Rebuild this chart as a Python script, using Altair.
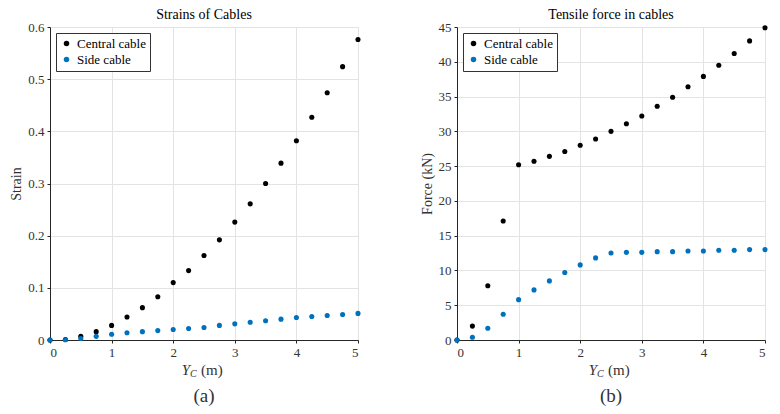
import altair as alt
import pandas as pd

yc = [0, 0.25, 0.5, 0.75, 1, 1.25, 1.5, 1.75, 2, 2.25, 2.5, 2.75, 3, 3.25, 3.5, 3.75, 4, 4.25, 4.5, 4.75, 5]
strain_central = [0, 0.001, 0.007, 0.016, 0.028, 0.044, 0.062, 0.083, 0.110, 0.133, 0.162, 0.192, 0.226,
                  0.261, 0.300, 0.339, 0.382, 0.427, 0.474, 0.524, 0.576]
strain_side = [0, 0.0005, 0.003, 0.007, 0.011, 0.014, 0.016, 0.018, 0.020, 0.022, 0.024, 0.028, 0.031,
               0.034, 0.037, 0.040, 0.043, 0.045, 0.047, 0.049, 0.051]
force_central = [0, 2.0, 7.8, 17.1, 25.2, 25.7, 26.4, 27.1, 28.0, 28.9, 30.0, 31.1, 32.2, 33.6, 34.9,
                 36.4, 37.9, 39.5, 41.2, 43.0, 44.9]
force_side = [0, 0.4, 1.7, 3.7, 5.8, 7.2, 8.5, 9.7, 10.8, 11.8, 12.5, 12.6, 12.6, 12.7, 12.7, 12.8,
              12.8, 12.9, 12.9, 13.0, 13.0]
strain_ticks = [0, 0.1, 0.2, 0.3, 0.4, 0.5, 0.6]
force_ticks = [0, 5, 10, 15, 20, 25, 30, 35, 40, 45]
x_ticks = [0, 1, 2, 3, 4, 5]
series = ["Central cable", "Side cable"]
colors = ["#000000", "#0072BD"]

FONT = "'Liberation Serif', 'DejaVu Serif', serif"
W, H = 308, 313


def frame(c, s):
    rows = [{"x": x, "v": v, "s": series[0]} for x, v in zip(yc, c)]
    rows += [{"x": x, "v": v, "s": series[1]} for x, v in zip(yc, s)]
    return pd.DataFrame(rows)


def panel(df, title, ytitle, ticks, fmt, cap):
    pts = alt.Chart(df).mark_circle(size=26, opacity=1).encode(
        x=alt.X("x:Q", scale=alt.Scale(domain=[0, 5], nice=False),
                axis=alt.Axis(title=None, values=x_ticks, format="d")),
        y=alt.Y("v:Q", scale=alt.Scale(domain=[0, ticks[-1]], nice=False),
                axis=alt.Axis(title=ytitle, values=ticks,
                              labelExpr=f"datum.value == 0 ? '0' : format(datum.value, '{fmt}')")),
        color=alt.Color("s:N", scale=alt.Scale(domain=series, range=colors),
                        legend=alt.Legend(title=None, orient="top-left", offset=6,
                                          strokeColor="#333333", fillColor="white",
                                          padding=4, symbolType="circle", symbolSize=30,
                                          labelFont=FONT, labelFontSize=13, labelColor="#000",
                                          rowPadding=2, labelLimit=200)),
    )
    ylab = alt.Chart(pd.DataFrame({"t": ["Y"]})).mark_text(
        font=FONT, fontSize=15, fontStyle="italic", align="right", color="#333"
    ).encode(text="t:N", x=alt.value(W / 2 - 14), y=alt.value(H + 30))
    csub = alt.Chart(pd.DataFrame({"t": ["C"]})).mark_text(
        font=FONT, fontSize=10, fontStyle="italic", align="left", color="#333"
    ).encode(text="t:N", x=alt.value(W / 2 - 14), y=alt.value(H + 34))
    unit = alt.Chart(pd.DataFrame({"t": ["(m)"]})).mark_text(
        font=FONT, fontSize=15, align="left", color="#333"
    ).encode(text="t:N", x=alt.value(W / 2 - 3), y=alt.value(H + 30))
    capt = alt.Chart(pd.DataFrame({"t": [cap]})).mark_text(
        font=FONT, fontSize=19, color="#333"
    ).encode(text="t:N", x=alt.value(W / 2), y=alt.value(H + 56))
    return alt.layer(pts, ylab, csub, unit, capt).properties(
        width=W, height=H,
        title=alt.TitleParams(title, font=FONT, fontSize=14, fontWeight="normal", color="#000", offset=-1),
    )


left = panel(frame(strain_central, strain_side), "Strains of Cables", "Strain", strain_ticks, ".1f", "(a)")
right = panel(frame(force_central, force_side), "Tensile force in cables", "Force (kN)", force_ticks, "d", "(b)")

chart = alt.hconcat(left, right, spacing=59).resolve_scale(color="independent").resolve_legend(
    color="independent"
).properties(padding={"left": 1, "top": 0, "right": 0, "bottom": 0}).configure(
    font=FONT
).configure_view(
    stroke=None
).configure_axis(
    labelFont=FONT, labelFontSize=13, labelColor="#333", titleFont=FONT, titleFontSize=14,
    titleFontWeight="normal", titleColor="#333", gridColor="#e3e3e3", domainColor="#262626",
    tickColor="#262626", tickSize=3, labelPadding=3,
).configure_axisY(titlePadding=4)

chart.save("out.html", embed_options={"renderer": "svg", "actions": False})
